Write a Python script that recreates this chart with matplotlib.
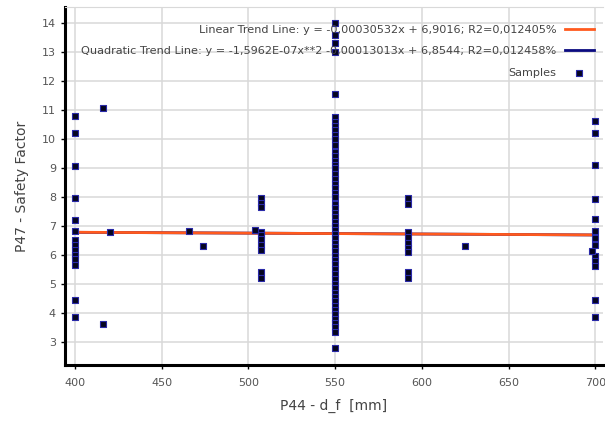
import numpy as np
import matplotlib
matplotlib.use("Agg")
import matplotlib.pyplot as plt

# samples: (d_f, safety factor)
col_400 = [10.79, 10.19, 9.06, 7.96, 7.20, 6.81, 6.52, 6.35, 6.18, 6.01, 5.84, 5.66, 4.45, 3.85]
col_700 = [10.62, 10.19, 9.09, 7.93, 7.22, 6.81, 6.58, 6.35, 5.95, 5.78, 5.60, 4.43, 3.84]
col_550 = [14.0, 13.6, 13.3, 13.0, 11.55,
           10.75, 10.6, 10.45, 10.3, 10.15, 9.98, 9.8, 9.55, 9.4, 9.25, 9.1, 8.98,
           8.78, 8.62, 8.46, 8.3, 8.15, 7.98, 7.75, 7.6, 7.45, 7.3, 7.15, 7.0,
           6.87, 6.72, 6.57, 6.42, 6.27, 6.12, 5.97, 5.82, 5.67, 5.52, 5.35,
           5.15, 5.0, 4.85, 4.7, 4.55, 4.4, 4.25, 4.1, 3.95, 3.8, 3.65, 3.5, 3.35,
           2.78]
col_592 = [7.95, 7.75, 6.78, 6.6, 6.42, 6.25, 6.1, 5.4, 5.2]
col_507 = [7.95, 7.8, 7.65, 6.8, 6.7, 6.55, 6.35, 6.15, 5.4, 5.2]
other_x = [416, 420, 416, 466, 474, 504, 625, 698]
other_y = [11.08, 6.80, 3.60, 6.81, 6.30, 6.85, 6.30, 6.12]

lin_coef = [-0.00030532, 6.9016]
quad_coef = [-1.5962e-07, -0.00013013, 6.8544]
x_range = [400, 700]

lin_label = "Linear Trend Line: y = -0,00030532x + 6,9016; R2=0,012405%"
quad_label = "Quadratic Trend Line: y = -1,5962E-07x**2 -0,00013013x + 6,8544; R2=0,012458%"

xs = ([400] * len(col_400) + [700] * len(col_700) + [550] * len(col_550)
      + [592] * len(col_592) + [507] * len(col_507) + other_x)
ys = col_400 + col_700 + col_550 + col_592 + col_507 + other_y

fig = plt.figure(figsize=(6.05, 4.21), dpi=100)
ax = fig.add_axes([65 / 605, 1 - 365 / 421, 538 / 605, 358 / 421])

xl = np.linspace(x_range[0], x_range[1], 50)
ax.plot(xl, np.polyval(quad_coef, xl), color="#0a0a80", lw=2.0, zorder=2, label=quad_label)
ax.plot(xl, np.polyval(lin_coef, xl), color="#ff5a1e", lw=2.0, zorder=3, label=lin_label)
ax.scatter(xs, ys, marker="s", s=14, facecolor="#050520", edgecolor="#2a2aa8",
           linewidths=0.8, zorder=4, label="Samples")

ax.set_xlim(394.2, 704.5)
ax.set_ylim(2.2, 14.55)
ax.set_xticks(range(400, 701, 50))
ax.set_yticks(range(3, 15))
ax.grid(True, color="#d9d9d9", lw=1.1)
ax.set_axisbelow(True)

for s in ["left", "bottom"]:
    ax.spines[s].set_linewidth(2.2)
    ax.spines[s].set_color("black")
ax.spines["top"].set_color("#d9d9d9")
ax.spines["right"].set_visible(False)
ax.tick_params(length=3, width=1, colors="black", labelcolor="#555555", labelsize=8)
ax.tick_params(axis="x", pad=6.5)

ax.set_xlabel("P44 - d_f  [mm]", fontsize=10, color="#444444", labelpad=8)
ax.set_ylabel("P47 - Safety Factor", fontsize=10, color="#444444", labelpad=9)

handles, labels = ax.get_legend_handles_labels()
order = [1, 0, 2]
leg = ax.legend([handles[i] for i in order], [labels[i] for i in order],
                loc="upper right", frameon=False, markerfirst=False, fontsize=8.1,
                labelcolor="#444444", handlelength=2.5, scatterpoints=1,
                labelspacing=1.02, borderaxespad=0.3, bbox_to_anchor=(0.997, 0.972))

fig.savefig("out.png", dpi=100, facecolor="white")
